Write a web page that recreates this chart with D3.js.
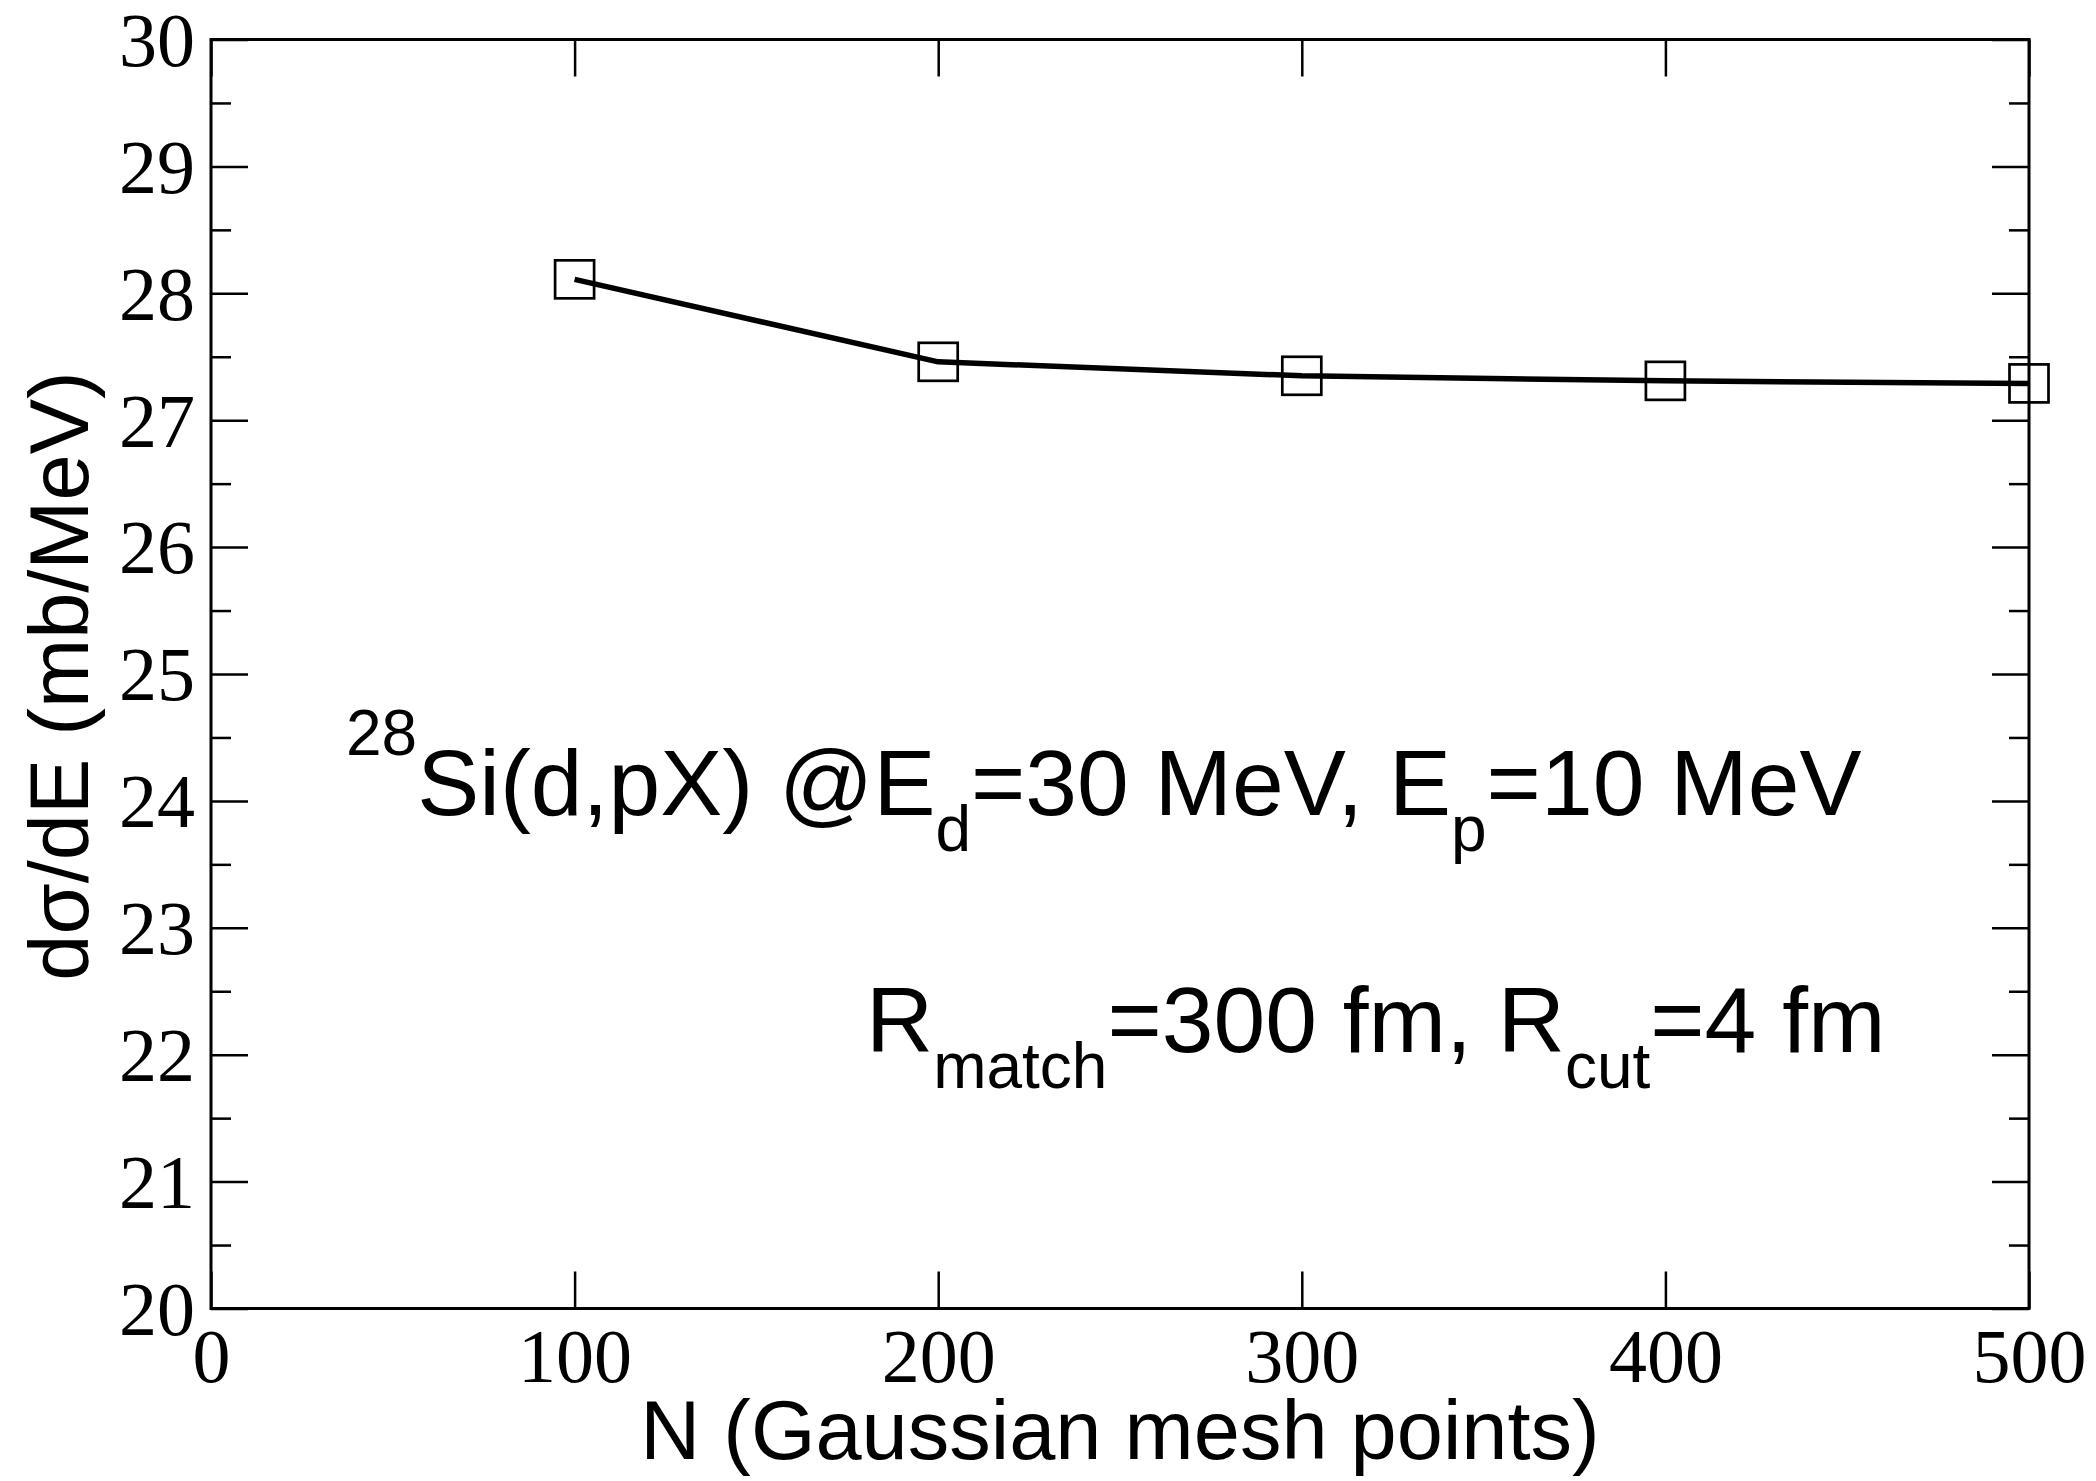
<!DOCTYPE html>
<html>
<head>
<meta charset="utf-8">
<script src="https://cdn.jsdelivr.net/npm/d3@7"></script>
<style>
  body { margin: 0; background: #fff; }
  svg { display: block; }
</style>
</head>
<body>
<script>
let width = 2096;
let height = 1481;

// data
let meshPoints = [100, 200, 300, 400, 500];
let crossSection = [28.11, 27.46, 27.35, 27.31, 27.29];

let xTicks = [0, 100, 200, 300, 400, 500];
let yTicks = [20, 21, 22, 23, 24, 25, 26, 27, 28, 29, 30];
let yMinorTicks = [20.5, 21.5, 22.5, 23.5, 24.5, 25.5, 26.5, 27.5, 28.5, 29.5];

let plot = {left: 211, right: 2029, top: 39.5, bottom: 1308.5};

let svg = d3.select("body").append("svg")
  .attr("width", width)
  .attr("height", height)
  .attr("viewBox", `0 0 ${width} ${height}`);

let x = d3.scaleLinear().domain([0, 500]).range([plot.left, plot.right]);
let y = d3.scaleLinear().domain([20, 30]).range([plot.bottom, plot.top]);

let tickFont = "'Liberation Serif', 'Times New Roman', serif";
let sansFont = "'Liberation Sans', Arial, Helvetica, sans-serif";

let styleAxis = (g, showLabels) => {
  g.select('.domain').remove();
  g.selectAll('.tick line').attr('stroke', '#000').attr('stroke-width', 2.5);
  if (showLabels) {
    g.selectAll('.tick text')
      .attr('fill', '#000')
      .style('font-family', tickFont)
      .style('font-size', '76px');
  } else {
    g.selectAll('.tick text').remove();
  }
}

// bottom axis with labels
svg.append('g')
  .attr('transform', `translate(0,${plot.bottom})`)
  .call(d3.axisBottom(x).tickValues(xTicks).tickSize(-37).tickSizeOuter(0).tickPadding(20))
  .call(g => styleAxis(g, true));

// top axis mirrored
svg.append('g')
  .attr('transform', `translate(0,${plot.top})`)
  .call(d3.axisTop(x).tickValues(xTicks).tickSize(-37).tickSizeOuter(0))
  .call(g => styleAxis(g, false));

// left axis with labels
svg.append('g')
  .attr('transform', `translate(${plot.left},0)`)
  .call(d3.axisLeft(y).tickValues(yTicks).tickSize(-37).tickSizeOuter(0).tickPadding(16))
  .call(g => styleAxis(g, true))
  .call(g => g.selectAll('.tick text').attr('dy', '0.34em'));

svg.append('g')
  .attr('transform', `translate(${plot.left},0)`)
  .call(d3.axisLeft(y).tickValues(yMinorTicks).tickSize(-20).tickSizeOuter(0))
  .call(g => styleAxis(g, false));

// right axis mirrored
svg.append('g')
  .attr('transform', `translate(${plot.right},0)`)
  .call(d3.axisRight(y).tickValues(yTicks).tickSize(-37).tickSizeOuter(0))
  .call(g => styleAxis(g, false));

svg.append('g')
  .attr('transform', `translate(${plot.right},0)`)
  .call(d3.axisRight(y).tickValues(yMinorTicks).tickSize(-20).tickSizeOuter(0))
  .call(g => styleAxis(g, false));

// frame
svg.append('rect')
  .attr('x', plot.left)
  .attr('y', plot.top)
  .attr('width', plot.right - plot.left)
  .attr('height', plot.bottom - plot.top)
  .attr('fill', 'none')
  .attr('stroke', '#000')
  .attr('stroke-width', 3);

// series
let points = meshPoints.map((n, i) => ({n: n, v: crossSection[i]}));

let line = d3.line().x(d => x(d.n)).y(d => y(d.v));
svg.append('path')
  .datum(points)
  .attr('d', line)
  .attr('fill', 'none')
  .attr('stroke', '#000')
  .attr('stroke-width', 5.5)
  .attr('stroke-linejoin', 'round');

let markerW = 39;
let markerH = 38;
svg.selectAll('.marker').data(points).enter().append('rect')
  .attr('class', 'marker')
  .attr('x', d => x(d.n) - markerW / 2)
  .attr('y', d => y(d.v) - markerH / 2)
  .attr('width', markerW)
  .attr('height', markerH)
  .attr('fill', 'none')
  .attr('stroke', '#000')
  .attr('stroke-width', 2.7);

// axis titles
svg.append('text')
  .attr('x', (plot.left + plot.right) / 2)
  .attr('y', 1459)
  .attr('text-anchor', 'middle')
  .style('font-family', sansFont)
  .style('font-size', '83px')
  .text('N (Gaussian mesh points)');

svg.append('text')
  .attr('transform', `translate(88,${(plot.top + plot.bottom) / 2 + 2}) rotate(-90)`)
  .attr('text-anchor', 'middle')
  .style('font-family', sansFont)
  .style('font-size', '83px')
  .text('dσ/dE (mb/MeV)');

// annotations
let big = 93, small = 64;
let addRich = (x0, y0, parts) => {
  let t = svg.append('text')
    .attr('x', x0)
    .attr('y', y0)
    .style('font-family', sansFont)
    .style('font-size', big + 'px');
  let shift = 0;
  parts.forEach(([str, kind]) => {
    let target = kind === 'sup' ? -60 : kind === 'sub' ? 36 : 0;
    t.append('tspan')
      .attr('dy', target - shift)
      .style('font-size', (kind ? small : big) + 'px')
      .text(str);
    shift = target;
  });
}

addRich(346, 815, [
  ['28', 'sup'], ['Si(d,pX) @E', null], ['d', 'sub'], ['=30 MeV, E', null], ['p', 'sub'], ['=10 MeV', null]
]);

addRich(866, 1052, [
  ['R', null], ['match', 'sub'], ['=300 fm, R', null], ['cut', 'sub'], ['=4 fm', null]
]);
</script>
</body>
</html>
